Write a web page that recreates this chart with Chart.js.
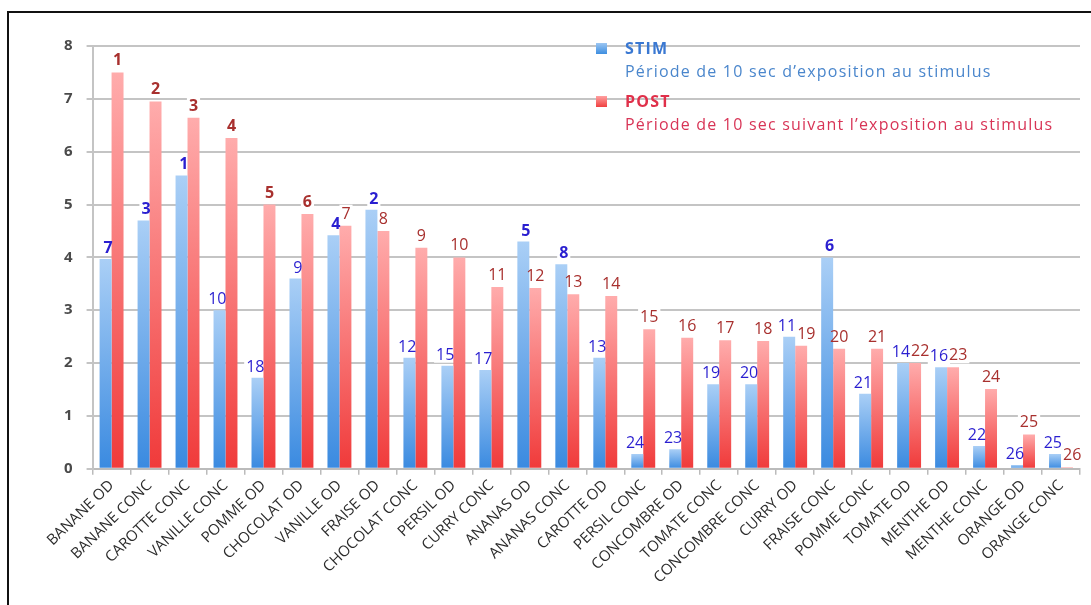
<!DOCTYPE html>
<html>
<head>
<meta charset="utf-8">
<script src="https://cdn.jsdelivr.net/npm/chart.js@4.4.0/dist/chart.umd.min.js"></script>
<style>
  html, body { margin: 0; padding: 0; background: #fff; }
  #wrap { position: relative; width: 1091px; height: 605px; }
  #cadre { position: absolute; left: 7px; top: 11px; right: 0; bottom: 0;
           border-left: 2px solid #111; border-top: 2px solid #111; pointer-events: none; }
</style>
</head>
<body>
<div id="wrap">
  <canvas id="graf" width="1091" height="605"></canvas>
  <div id="cadre"></div>
</div>
<script>
const categories = ['BANANE OD', 'BANANE CONC', 'CAROTTE CONC', 'VANILLE CONC', 'POMME OD',
    'CHOCOLAT OD', 'VANILLE OD', 'FRAISE OD', 'CHOCOLAT CONC', 'PERSIL OD', 'CURRY CONC',
    'ANANAS OD', 'ANANAS CONC', 'CAROTTE OD', 'PERSIL CONC', 'CONCOMBRE OD', 'TOMATE CONC',
    'CONCOMBRE CONC', 'CURRY OD', 'FRAISE CONC', 'POMME CONC', 'TOMATE OD', 'MENTHE OD',
    'MENTHE CONC', 'ORANGE OD', 'ORANGE CONC']

const stim = [3.97, 4.7, 5.55, 3.0, 1.72, 3.6, 4.42, 4.9, 2.1, 1.95, 1.87, 4.3, 3.87, 2.1,
    0.28, 0.37, 1.6, 1.6, 2.5, 4.0, 1.42, 2.0, 1.92, 0.43, 0.07, 0.28]
const post = [7.5, 6.95, 6.64, 6.26, 5.0, 4.82, 4.6, 4.5, 4.18, 4.0, 3.44, 3.42, 3.3, 3.27,
    2.64, 2.48, 2.43, 2.42, 2.33, 2.27, 2.27, 2.0, 1.92, 1.51, 0.65, 0.03]

const rangStim = [7, 3, 1, 10, 18, 9, 4, 2, 12, 15, 17, 5, 8, 13, 24, 23, 19, 20, 11, 6, 21,
    14, 16, 22, 26, 25]
const rangPost = [1, 2, 3, 4, 5, 6, 7, 8, 9, 10, 11, 12, 13, 14, 15, 16, 17, 18, 19, 20, 21,
    22, 23, 24, 25, 26]

const yTicks = [0, 1, 2, 3, 4, 5, 6, 7, 8]

const police = '"Open Sans", "Noto Sans", sans-serif'

// degrade par barre, clair en haut, fonce en bas
function degrade(haut, bas) {
    return function (context) {
        const chart = context.chart
        const area = chart.chartArea
        if (!area || context.type !== 'data') return bas
        const v = context.raw
        const y = chart.scales.y
        const top = y.getPixelForValue(v)
        const base = y.getPixelForValue(0)
        if (!isFinite(top) || base - top < 1) return haut
        const g = chart.ctx.createLinearGradient(0, top, 0, base)
        g.addColorStop(0, haut)
        g.addColorStop(1, bas)
        return g
    }
}

// position des rangs au-dessus des barres
function placer(chart) {
    const ctx = chart.ctx
    const mStim = chart.getDatasetMeta(0)
    const mPost = chart.getDatasetMeta(1)
    const out = []
    ctx.save()
    for (let i = 0; i < categories.length; i++) {
        const bs = mStim.data[i]
        const bp = mPost.data[i]
        const fs = (rangStim[i] <= 8 ? 'bold ' : '') + '16px ' + police
        ctx.font = fs
        const ts = String(rangStim[i])
        const ws = ctx.measureText(ts).width
        const rs = bs.x + bs.width / 2 + 1
        const ys = bs.y - 6
        out.push({ t: ts, f: fs, x: rs - ws, y: ys, w: ws, c: '#2a1fd0' })

        const fp = (rangPost[i] <= 6 ? 'bold ' : '') + '16px ' + police
        ctx.font = fp
        const tp = String(rangPost[i])
        const wp = ctx.measureText(tp).width
        let lp = bp.x - wp / 2
        const yp = bp.y - 7
        if (Math.abs(yp - ys) < 16 && lp < rs + 1) lp = rs + 1
        out.push({ t: tp, f: fp, x: lp, y: yp, w: wp, c: '#a8302e' })
    }
    ctx.restore()
    return out
}

const etiquettes = {
    id: 'etiquettes',
    beforeDatasetsDraw(chart) {
        const ctx = chart.ctx
        ctx.save()
        ctx.fillStyle = '#ffffff'
        placer(chart).forEach(e => ctx.fillRect(e.x - 2, e.y - 14, e.w + 4, 17))
        ctx.restore()
    },
    afterDatasetsDraw(chart) {
        const ctx = chart.ctx
        ctx.save()
        ctx.textAlign = 'left'
        ctx.textBaseline = 'alphabetic'
        placer(chart).forEach(e => {
            ctx.font = e.f
            ctx.fillStyle = e.c
            ctx.fillText(e.t, e.x, e.y)
        })
        ctx.restore()
    }
}

const legende = {
    id: 'legende',
    afterDraw(chart) {
        const ctx = chart.ctx
        ctx.save()
        ctx.textAlign = 'left'
        ctx.textBaseline = 'middle'
        ctx.letterSpacing = '1.2px'

        let g = ctx.createLinearGradient(0, 43, 0, 54)
        g.addColorStop(0, '#9cc6f2')
        g.addColorStop(1, '#3d8ee0')
        ctx.fillStyle = g
        ctx.fillRect(596, 43, 11, 11)
        ctx.font = 'bold 16px ' + police
        ctx.fillStyle = '#3a78d2'
        ctx.fillText('STIM', 625, 49)
        ctx.font = '16px ' + police
        ctx.fillStyle = '#4a86cc'
        ctx.fillText('Période de 10 sec d\u2019exposition au stimulus', 625, 72)

        g = ctx.createLinearGradient(0, 96, 0, 107)
        g.addColorStop(0, '#ffa0a0')
        g.addColorStop(1, '#f04040')
        ctx.fillStyle = g
        ctx.fillRect(596, 96, 11, 11)
        ctx.font = 'bold 16px ' + police
        ctx.fillStyle = '#e0304a'
        ctx.fillText('POST', 625, 102)
        ctx.font = '16px ' + police
        ctx.fillStyle = '#d83456'
        ctx.fillText('Période de 10 sec suivant l\u2019exposition au stimulus', 625, 125)
        ctx.restore()
    }
}

const ctx = document.getElementById('graf').getContext('2d')
ctx.letterSpacing = '0.6px'

new Chart(ctx, {
    type: 'bar',
    data: {
        labels: categories,
        datasets: [{
            label: 'STIM',
            data: stim,
            backgroundColor: degrade('#aacff6', '#3a8ae0'),
            barPercentage: 1,
            categoryPercentage: 0.63
        }, {
            label: 'POST',
            data: post,
            backgroundColor: degrade('#ffacac', '#f03a3a'),
            barPercentage: 1,
            categoryPercentage: 0.63
        }]
    },
    options: {
        responsive: false,
        maintainAspectRatio: false,
        animation: false,
        layout: { padding: { left: 50, right: 11, top: 46, bottom: 16 } },
        plugins: {
            legend: { display: false },
            tooltip: { enabled: false }
        },
        scales: {
            x: {
                grid: { drawOnChartArea: false, drawTicks: true, tickLength: 6, color: '#bbbbbb', lineWidth: 1.5 },
                border: { color: '#bbbbbb', width: 2 },
                ticks: {
                    autoSkip: false,
                    minRotation: 44,
                    maxRotation: 44,
                    color: '#2c2c2c',
                    font: { family: police, size: 15 },
                    padding: 2
                }
            },
            y: {
                min: 0,
                max: 8,
                afterBuildTicks(axis) {
                    axis.ticks = yTicks.map(v => ({ value: v }))
                },
                grid: { color: '#c4c4c4', lineWidth: 2, tickLength: 6 },
                border: { color: '#c4c4c4', width: 2 },
                ticks: {
                    color: '#4a4a4a',
                    font: { family: police, size: 15, weight: 'bold' },
                    padding: 14
                }
            }
        }
    },
    plugins: [etiquettes, legende]
})
</script>
</body>
</html>
